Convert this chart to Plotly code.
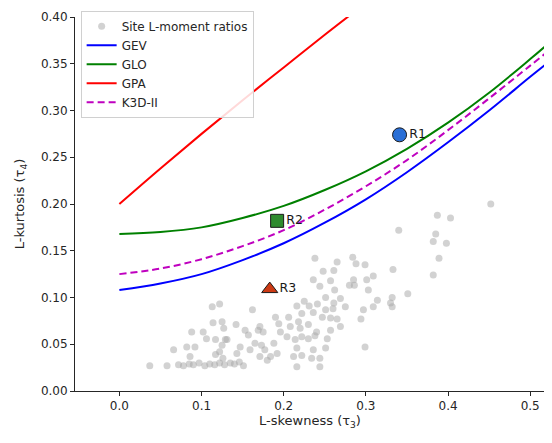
import plotly.graph_objects as go

# ---- data ----
curve_tau3 = [0.0, 0.05, 0.10, 0.15, 0.20, 0.25, 0.30, 0.35, 0.40, 0.45, 0.50, 0.52]
gev_tau4 = [0.108, 0.115, 0.125, 0.140, 0.158, 0.180, 0.205, 0.234, 0.266, 0.300, 0.336, 0.350]
glo_tau4 = [0.168, 0.170, 0.175, 0.185, 0.198, 0.215, 0.235, 0.259, 0.287, 0.319, 0.355, 0.370]
k3d_tau4 = [0.125, 0.131, 0.141, 0.155, 0.172, 0.194, 0.219, 0.247, 0.279, 0.313, 0.348, 0.362]
gpa_tau3 = [0.0, 0.05, 0.10, 0.15, 0.20, 0.25, 0.30]
gpa_tau4 = [0.200, 0.238, 0.275, 0.311, 0.346, 0.381, 0.415]

site_tau3 = [
    0.037, 0.058, 0.066, 0.082, 0.088, 0.092, 0.086, 0.102, 0.106, 0.113, 0.122, 0.125,
    0.114, 0.127, 0.129, 0.117, 0.131, 0.125, 0.117, 0.122, 0.126,
    0.072, 0.078, 0.085, 0.090, 0.097, 0.104, 0.110, 0.116, 0.122, 0.128,
    0.238, 0.248, 0.236, 0.244, 0.225, 0.231, 0.241, 0.251, 0.216, 0.222, 0.236, 0.247,
    0.162, 0.142, 0.153, 0.169, 0.190, 0.194, 0.206, 0.208, 0.218, 0.220, 0.230, 0.240,
    0.196, 0.204, 0.214, 0.222, 0.230, 0.238, 0.253, 0.157, 0.165, 0.173, 0.188, 0.147,
    0.159, 0.177, 0.143, 0.171, 0.180, 0.192, 0.216, 0.236, 0.251, 0.212, 0.222, 0.234,
    0.244, 0.216, 0.244, 0.135, 0.151, 0.251, 0.175, 0.171, 0.184, 0.140, 0.146,
    0.452, 0.387, 0.403, 0.340, 0.385, 0.382, 0.398, 0.389, 0.382, 0.333, 0.265, 0.284,
    0.261, 0.288, 0.299, 0.309, 0.301, 0.285, 0.280, 0.286, 0.262, 0.303, 0.351, 0.332,
    0.330, 0.314, 0.309, 0.297, 0.275, 0.269, 0.261, 0.260, 0.332, 0.294,
    0.257, 0.257, 0.265, 0.257, 0.269, 0.299,
]
site_tau4 = [
    0.027, 0.027, 0.044, 0.047, 0.063, 0.047, 0.037, 0.063, 0.056, 0.090, 0.093, 0.074,
    0.073, 0.067, 0.055, 0.055, 0.055, 0.049, 0.039, 0.042, 0.035,
    0.028, 0.027, 0.029, 0.028, 0.030, 0.027, 0.029, 0.028, 0.030, 0.028,
    0.142, 0.128, 0.119, 0.112, 0.096, 0.091, 0.093, 0.087, 0.091, 0.083, 0.084, 0.079,
    0.087, 0.071, 0.065, 0.065, 0.079, 0.072, 0.079, 0.069, 0.074, 0.067, 0.071, 0.063,
    0.063, 0.058, 0.055, 0.058, 0.056, 0.059, 0.056, 0.060, 0.051, 0.049, 0.051, 0.047,
    0.044, 0.044, 0.040, 0.037, 0.033, 0.040, 0.046, 0.044, 0.046, 0.037, 0.038, 0.035,
    0.035, 0.026, 0.026, 0.030, 0.027, 0.100, 0.063, 0.069, 0.037, 0.029, 0.031,
    0.200, 0.188, 0.185, 0.172, 0.168, 0.160, 0.158, 0.142, 0.124, 0.130, 0.138, 0.143,
    0.129, 0.136, 0.135, 0.123, 0.119, 0.119, 0.113, 0.113, 0.108, 0.108, 0.104, 0.100,
    0.094, 0.097, 0.090, 0.087, 0.090, 0.099, 0.094, 0.088, 0.090, 0.077,
    0.118, 0.078, 0.077, 0.065, 0.069, 0.047,
]

region_names = ["R1", "R2", "R3"]
region_tau3 = [0.341, 0.192, 0.183]
region_tau4 = [0.274, 0.182, 0.109]

x_ticks = [0.0, 0.1, 0.2, 0.3, 0.4, 0.5]
y_ticks = [0.00, 0.05, 0.10, 0.15, 0.20, 0.25, 0.30, 0.35, 0.40]

FONT = "DejaVu Sans"

fig = go.Figure()
fig.add_trace(go.Scatter(
    x=site_tau3, y=site_tau4, mode="markers", name="Site L-moment ratios",
    marker=dict(size=7, color="rgba(165,165,165,0.5)", line=dict(width=0)),
))
fig.add_trace(go.Scatter(x=curve_tau3, y=gev_tau4, mode="lines", name="GEV",
                         line=dict(color="#0000ff", width=2, shape="spline")))
fig.add_trace(go.Scatter(x=curve_tau3, y=glo_tau4, mode="lines", name="GLO",
                         line=dict(color="#008000", width=2, shape="spline")))
fig.add_trace(go.Scatter(x=gpa_tau3, y=gpa_tau4, mode="lines", name="GPA",
                         line=dict(color="#ff0000", width=2, shape="spline")))
fig.add_trace(go.Scatter(x=curve_tau3, y=k3d_tau4, mode="lines", name="K3D-II",
                         line=dict(color="#bf00bf", width=2, dash="7px,4px", shape="spline")))

symbols = ["circle", "square", "triangle-up"]
colors = ["#2a6fd6", "#2e8b2e", "#cc3a14"]
sizes = [14, 13, 14]
for i, nm in enumerate(region_names):
    fig.add_trace(go.Scatter(
        x=[region_tau3[i]], y=[region_tau4[i]], mode="markers+text", showlegend=False,
        marker=dict(symbol=symbols[i], size=sizes[i], color=colors[i],
                    line=dict(color="#1a1a1a", width=1)),
        text=[nm], textposition="middle right",
        textfont=dict(family=FONT, size=12.5, color="#1a1a1a"),
    ))

fig.update_layout(
    width=544, height=435,
    margin=dict(l=67, r=7, t=9, b=52, autoexpand=False),
    paper_bgcolor="white", plot_bgcolor="white",
    font=dict(family=FONT, size=12, color="#262626"),
    legend=dict(x=0.012, y=1.017, xanchor="left", yanchor="top",
                bgcolor="rgba(255,255,255,0.85)", bordercolor="#d0d0d0", borderwidth=1,
                font=dict(family=FONT, size=12, color="#262626"),
                itemwidth=30, tracegroupgap=0),
)
fig.update_xaxes(
    range=[-0.054, 0.518], tickvals=x_ticks, ticktext=[f"{v:.1f}" for v in x_ticks],
    showgrid=False, zeroline=False, showline=True, linecolor="#262626", linewidth=1,
    ticks="outside", ticklen=4, tickcolor="#262626", automargin=False,
    title=dict(text="L-skewness (τ<sub>3</sub>)", font=dict(family=FONT, size=13), standoff=3),
)
fig.update_yaxes(
    range=[0, 0.40], tickvals=y_ticks, ticktext=[f"{v:.2f}" for v in y_ticks],
    showgrid=False, zeroline=False, showline=True, linecolor="#262626", linewidth=1,
    ticks="outside", ticklen=4, tickcolor="#262626", automargin=False,
    title=dict(text="L-kurtosis (τ<sub>4</sub>)", font=dict(family=FONT, size=13), standoff=13),
)

fig.write_html("out.html")
